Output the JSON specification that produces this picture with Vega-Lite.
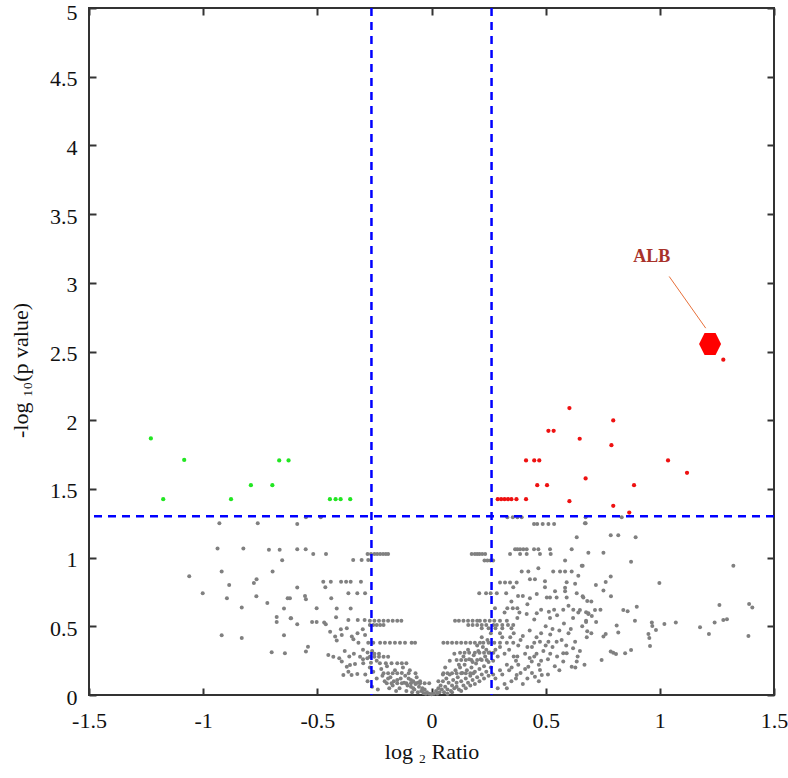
{
  "$schema": "https://vega.github.io/schema/vega-lite/v6.json",
  "width": 685,
  "height": 687,
  "autosize": {"type": "none"},
  "padding": {"left": 89, "top": 8, "right": 14, "bottom": 83},
  "background": "white",
  "config": {
    "view": {"stroke": "#333333", "strokeWidth": 2},
    "axis": {
      "domain": false, "grid": false, "tickSize": -7, "tickColor": "#333333", "tickWidth": 2,
      "labelFont": "Liberation Serif", "labelFontSize": 22, "labelColor": "#111111", "labelPadding": 19,
      "labelFlush": false, "labelOverlap": false,
      "titleFont": "Liberation Serif", "titleFontSize": 22, "titleFontWeight": "normal", "titleColor": "#111111"
    }
  },
  "datasets": {
    "ns": [
      {"x":-0.929,"y":1.25},{"x":-0.761,"y":1.25},{"x":-0.937,"y":1.066},{"x":-0.824,"y":1.066},{"x":-0.712,"y":1.058},{"x":-0.665,"y":1.058},{"x":-0.654,"y":0.981},{"x":-0.919,"y":0.898},{"x":-0.696,"y":0.898},{"x":-1.061,"y":0.864},{"x":-0.766,"y":0.843},{"x":-0.778,"y":0.816},{"x":-0.886,"y":0.801},{"x":-1.002,"y":0.741},{"x":-0.896,"y":0.704},{"x":-0.767,"y":0.719},{"x":-0.719,"y":0.67},{"x":-0.63,"y":0.704},{"x":-0.62,"y":0.704},{"x":-0.831,"y":0.636},{"x":-0.646,"y":0.629},{"x":-0.678,"y":0.568},{"x":-0.678,"y":0.532},{"x":-0.617,"y":0.559},{"x":-0.919,"y":0.435},{"x":-0.831,"y":0.415},{"x":-0.646,"y":0.435},{"x":-0.7,"y":0.311},{"x":-0.642,"y":0.304},
      {"x":-0.588,"y":1.245},{"x":-0.55,"y":1.294},{"x":-0.485,"y":1.294},{"x":-0.588,"y":1.061},{"x":-0.551,"y":1.061},{"x":-0.518,"y":1.027},{"x":-0.462,"y":1.027},{"x":-0.343,"y":0.983},{"x":-0.306,"y":0.983},{"x":-0.277,"y":0.983},
      {"x":-0.28,"y":1.027},{"x":-0.265,"y":1.027},{"x":-0.25,"y":1.027},{"x":-0.238,"y":1.027},{"x":-0.225,"y":1.027},{"x":-0.212,"y":1.027},{"x":-0.2,"y":1.027},{"x":-0.19,"y":1.027},
      {"x":-0.474,"y":0.825},{"x":-0.441,"y":0.825},{"x":-0.396,"y":0.825},{"x":-0.374,"y":0.825},{"x":-0.354,"y":0.825},{"x":-0.309,"y":0.825},{"x":-0.465,"y":0.784},{"x":-0.364,"y":0.741},{"x":-0.325,"y":0.741},{"x":-0.291,"y":0.741},{"x":-0.588,"y":0.782},{"x":-0.554,"y":0.721},{"x":-0.55,"y":0.697},{"x":-0.439,"y":0.704},{"x":-0.503,"y":0.631},{"x":-0.415,"y":0.629},{"x":-0.354,"y":0.629},{"x":-0.615,"y":0.559},{"x":-0.523,"y":0.532},{"x":-0.503,"y":0.532},{"x":-0.47,"y":0.527},{"x":-0.463,"y":0.515},{"x":-0.588,"y":0.515},{"x":-0.418,"y":0.566},{"x":-0.364,"y":0.546},{"x":-0.323,"y":0.546},{"x":-0.293,"y":0.546},
      {"x":-0.27,"y":0.541},{"x":-0.25,"y":0.541},{"x":-0.23,"y":0.541},{"x":-0.21,"y":0.541},{"x":-0.19,"y":0.541},{"x":-0.17,"y":0.541},{"x":-0.15,"y":0.541},{"x":-0.132,"y":0.541},
      {"x":-0.27,"y":0.51},{"x":-0.255,"y":0.51},{"x":-0.24,"y":0.51},{"x":-0.225,"y":0.51},{"x":-0.21,"y":0.51},
      {"x":-0.444,"y":0.461},{"x":-0.422,"y":0.425},{"x":-0.415,"y":0.396},{"x":-0.397,"y":0.478},{"x":-0.393,"y":0.437},{"x":-0.371,"y":0.486},{"x":-0.349,"y":0.425},{"x":-0.342,"y":0.406},{"x":-0.324,"y":0.449},{"x":-0.301,"y":0.478},{"x":-0.291,"y":0.437},{"x":-0.541,"y":0.352},{"x":-0.55,"y":0.316},
      {"x":-0.452,"y":0.291},{"x":-0.43,"y":0.279},{"x":-0.404,"y":0.267},{"x":-0.393,"y":0.243},{"x":-0.371,"y":0.206},{"x":-0.357,"y":0.218},{"x":-0.335,"y":0.226},{"x":-0.313,"y":0.279},{"x":-0.299,"y":0.231},{"x":-0.281,"y":0.267},{"x":-0.386,"y":0.146},{"x":-0.364,"y":0.17},{"x":-0.35,"y":0.146},{"x":-0.325,"y":0.153},
      {"x":-0.277,"y":0.381},{"x":-0.255,"y":0.381},{"x":-0.225,"y":0.381},{"x":-0.204,"y":0.381},{"x":-0.182,"y":0.381},{"x":-0.16,"y":0.381},{"x":-0.138,"y":0.381},{"x":-0.116,"y":0.381},{"x":-0.087,"y":0.381},{"x":-0.072,"y":0.381},
      {"x":-0.27,"y":0.279},{"x":-0.25,"y":0.279},{"x":-0.23,"y":0.279},{"x":-0.21,"y":0.279},{"x":-0.19,"y":0.279},
      {"x":-0.226,"y":0.231},{"x":-0.2,"y":0.231},{"x":-0.175,"y":0.231},{"x":-0.15,"y":0.231},{"x":-0.13,"y":0.231},{"x":-0.11,"y":0.231},
      {"x":-0.21,"y":0.158},{"x":-0.19,"y":0.158},{"x":-0.17,"y":0.158},{"x":-0.15,"y":0.158},{"x":-0.1,"y":0.158},{"x":-0.07,"y":0.158},
      {"x":-0.27,"y":0.2},{"x":-0.255,"y":0.17},{"x":-0.24,"y":0.12},{"x":-0.23,"y":0.3},{"x":-0.22,"y":0.19},{"x":-0.205,"y":0.1},{"x":-0.195,"y":0.21},{"x":-0.18,"y":0.13},{"x":-0.17,"y":0.07},{"x":-0.16,"y":0.18},{"x":-0.15,"y":0.11},{"x":-0.14,"y":0.05},{"x":-0.13,"y":0.16},{"x":-0.12,"y":0.09},{"x":-0.11,"y":0.03},{"x":-0.1,"y":0.12},{"x":-0.09,"y":0.06},{"x":-0.085,"y":0.02},{"x":-0.08,"y":0.1},{"x":-0.075,"y":0.04},{"x":-0.07,"y":0.08},{"x":-0.065,"y":0.13},{"x":-0.06,"y":0.02},{"x":-0.055,"y":0.06},{"x":-0.05,"y":0.1},{"x":-0.045,"y":0.03},{"x":-0.04,"y":0.05},{"x":-0.035,"y":0.015},{"x":-0.03,"y":0.04},{"x":-0.025,"y":0.01},{"x":-0.02,"y":0.02},{"x":-0.01,"y":0.01},{"x":0.0,"y":0.005},
      {"x":-0.196,"y":0.085},{"x":-0.175,"y":0.085},{"x":-0.15,"y":0.085},{"x":-0.13,"y":0.085},{"x":-0.11,"y":0.085},{"x":-0.09,"y":0.085},{"x":-0.07,"y":0.085},{"x":-0.05,"y":0.085},{"x":-0.03,"y":0.085},{"x":-0.01,"y":0.085},
      {"x":-0.3,"y":0.33},{"x":-0.28,"y":0.31},{"x":-0.26,"y":0.32},{"x":-0.24,"y":0.25},{"x":-0.265,"y":0.235},
      {"x":-0.29,"y":0.15},{"x":-0.28,"y":0.1},{"x":-0.26,"y":0.06},{"x":-0.25,"y":0.3},{"x":-0.235,"y":0.04},{"x":-0.215,"y":0.14},{"x":-0.19,"y":0.12},{"x":-0.185,"y":0.05},{"x":-0.165,"y":0.1},{"x":-0.155,"y":0.03},{"x":-0.135,"y":0.12},{"x":-0.125,"y":0.2},{"x":-0.115,"y":0.14},{"x":-0.105,"y":0.07},{"x":-0.095,"y":0.18},{"x":-0.09,"y":0.11},{"x":-0.08,"y":0.05},{"x":-0.06,"y":0.09},{"x":-0.3,"y":0.26},{"x":-0.32,"y":0.38},{"x":-0.34,"y":0.3},{"x":-0.36,"y":0.28},{"x":-0.38,"y":0.32},
      {"x":0.01,"y":0.01},{"x":0.02,"y":0.03},{"x":0.025,"y":0.01},{"x":0.03,"y":0.05},{"x":0.035,"y":0.02},{"x":0.04,"y":0.07},{"x":0.045,"y":0.04},{"x":0.05,"y":0.1},{"x":0.055,"y":0.02},{"x":0.06,"y":0.06},{"x":0.065,"y":0.12},{"x":0.07,"y":0.04},{"x":0.075,"y":0.09},{"x":0.08,"y":0.15},{"x":0.085,"y":0.03},{"x":0.09,"y":0.07},{"x":0.095,"y":0.11},{"x":0.1,"y":0.05},{"x":0.105,"y":0.18},{"x":0.11,"y":0.09},{"x":0.115,"y":0.13},{"x":0.12,"y":0.04},{"x":0.125,"y":0.2},{"x":0.13,"y":0.1},{"x":0.135,"y":0.16},{"x":0.14,"y":0.07},{"x":0.145,"y":0.22},{"x":0.15,"y":0.12},{"x":0.155,"y":0.18},{"x":0.16,"y":0.09},{"x":0.165,"y":0.26},{"x":0.17,"y":0.14},{"x":0.175,"y":0.2},{"x":0.18,"y":0.11},{"x":0.185,"y":0.29},{"x":0.19,"y":0.17},{"x":0.195,"y":0.23},{"x":0.2,"y":0.13},{"x":0.205,"y":0.32},{"x":0.21,"y":0.19},{"x":0.215,"y":0.26},{"x":0.22,"y":0.15},{"x":0.225,"y":0.35},{"x":0.23,"y":0.21},{"x":0.235,"y":0.28},{"x":0.24,"y":0.17},{"x":0.245,"y":0.4},{"x":0.25,"y":0.24},{"x":0.255,"y":0.31},{"x":0.26,"y":0.2},
      {"x":0.06,"y":0.2},{"x":0.08,"y":0.25},{"x":0.1,"y":0.3},{"x":0.12,"y":0.22},{"x":0.14,"y":0.28},{"x":0.16,"y":0.33},{"x":0.18,"y":0.24},{"x":0.2,"y":0.36},{"x":0.22,"y":0.42},{"x":0.24,"y":0.33},{"x":0.26,"y":0.45},{"x":0.27,"y":0.25},{"x":0.27,"y":0.15},{"x":0.28,"y":0.33},{"x":0.03,"y":0.1},{"x":0.05,"y":0.15},{"x":0.07,"y":0.01},{"x":0.09,"y":0.02},{"x":0.11,"y":0.06},{"x":0.13,"y":0.03},{"x":0.15,"y":0.05},{"x":0.17,"y":0.07},{"x":0.19,"y":0.08},{"x":0.21,"y":0.1},{"x":0.23,"y":0.12},{"x":0.25,"y":0.14},
      {"x":0.052,"y":0.381},{"x":0.07,"y":0.381},{"x":0.09,"y":0.381},{"x":0.11,"y":0.381},{"x":0.13,"y":0.381},{"x":0.15,"y":0.381},{"x":0.17,"y":0.381},{"x":0.19,"y":0.381},{"x":0.212,"y":0.381},{"x":0.227,"y":0.381},{"x":0.25,"y":0.381},{"x":0.275,"y":0.381},{"x":0.3,"y":0.381},{"x":0.33,"y":0.381},{"x":0.358,"y":0.381},
      {"x":0.125,"y":0.308},{"x":0.145,"y":0.308},{"x":0.165,"y":0.308},{"x":0.19,"y":0.308},{"x":0.21,"y":0.308},{"x":0.23,"y":0.308},{"x":0.25,"y":0.308},{"x":0.271,"y":0.308},
      {"x":0.11,"y":0.255},{"x":0.13,"y":0.255},{"x":0.15,"y":0.255},{"x":0.175,"y":0.255},{"x":0.2,"y":0.255},{"x":0.22,"y":0.255},{"x":0.242,"y":0.255},
      {"x":0.052,"y":0.158},{"x":0.07,"y":0.158},{"x":0.09,"y":0.158},{"x":0.11,"y":0.158},{"x":0.13,"y":0.158},{"x":0.15,"y":0.158},{"x":0.17,"y":0.158},{"x":0.183,"y":0.158},
      {"x":0.103,"y":0.541},{"x":0.12,"y":0.541},{"x":0.14,"y":0.541},{"x":0.16,"y":0.541},{"x":0.18,"y":0.541},{"x":0.2,"y":0.541},{"x":0.212,"y":0.541},{"x":0.234,"y":0.541},{"x":0.255,"y":0.541},{"x":0.275,"y":0.541},{"x":0.3,"y":0.541},{"x":0.33,"y":0.541},
      {"x":0.161,"y":0.51},{"x":0.18,"y":0.51},{"x":0.2,"y":0.51},{"x":0.22,"y":0.51},{"x":0.24,"y":0.51},{"x":0.271,"y":0.51},{"x":0.286,"y":0.51},{"x":0.31,"y":0.51},{"x":0.335,"y":0.51},{"x":0.358,"y":0.51},
      {"x":0.22,"y":0.486},{"x":0.25,"y":0.486},{"x":0.28,"y":0.486},{"x":0.31,"y":0.486},{"x":0.35,"y":0.486},
      {"x":0.176,"y":1.027},{"x":0.19,"y":1.027},{"x":0.2,"y":1.027},{"x":0.21,"y":1.027},{"x":0.222,"y":1.027},{"x":0.235,"y":1.027},
      {"x":0.232,"y":0.978},{"x":0.245,"y":0.978},{"x":0.258,"y":0.978},{"x":0.27,"y":0.978},
      {"x":0.209,"y":0.741},{"x":0.239,"y":0.741},{"x":0.259,"y":0.741},{"x":0.286,"y":0.741},{"x":0.327,"y":0.741},
      {"x":0.3,"y":0.818},{"x":0.322,"y":0.818},{"x":0.344,"y":0.818},{"x":0.373,"y":0.818},{"x":0.358,"y":0.784},
      {"x":0.332,"y":1.294},{"x":0.356,"y":1.294},{"x":0.376,"y":1.294},{"x":0.395,"y":1.294},{"x":0.449,"y":1.245},{"x":0.463,"y":1.245},{"x":0.487,"y":1.245},{"x":0.512,"y":1.245},{"x":0.537,"y":1.245},{"x":0.672,"y":1.25},{"x":0.636,"y":1.149},
      {"x":0.344,"y":1.027},{"x":0.366,"y":1.061},{"x":0.376,"y":1.061},{"x":0.388,"y":1.061},{"x":0.402,"y":1.061},{"x":0.417,"y":1.061},{"x":0.388,"y":1.027},{"x":0.417,"y":1.027},{"x":0.449,"y":1.061},{"x":0.468,"y":1.061},{"x":0.475,"y":1.027},{"x":0.519,"y":1.061},{"x":0.522,"y":1.027},{"x":0.585,"y":0.978},{"x":0.614,"y":1.061},{"x":0.662,"y":0.94},
      {"x":0.395,"y":0.898},{"x":0.424,"y":0.898},{"x":0.468,"y":0.923},{"x":0.533,"y":0.898},{"x":0.563,"y":0.898},{"x":0.585,"y":0.898},{"x":0.614,"y":0.898},{"x":0.643,"y":0.867},
      {"x":0.431,"y":0.843},{"x":0.453,"y":0.843},{"x":0.497,"y":0.828},{"x":0.497,"y":0.784},{"x":0.592,"y":0.82},{"x":0.629,"y":0.81},{"x":0.585,"y":0.78},
      {"x":0.379,"y":0.72},{"x":0.4,"y":0.72},{"x":0.431,"y":0.705},{"x":0.461,"y":0.735},{"x":0.505,"y":0.71},{"x":0.519,"y":0.71},{"x":0.541,"y":0.755},{"x":0.548,"y":0.71},{"x":0.585,"y":0.755},{"x":0.592,"y":0.71},{"x":0.636,"y":0.74},{"x":0.665,"y":0.71},
      {"x":0.278,"y":0.631},{"x":0.332,"y":0.631},{"x":0.356,"y":0.631},{"x":0.376,"y":0.631},
      {"x":0.376,"y":0.56},{"x":0.385,"y":0.6},{"x":0.417,"y":0.59},{"x":0.461,"y":0.595},{"x":0.514,"y":0.605},{"x":0.519,"y":0.56},{"x":0.537,"y":0.62},{"x":0.577,"y":0.62},{"x":0.621,"y":0.62},{"x":0.643,"y":0.6},{"x":0.677,"y":0.54},{"x":0.687,"y":0.59},
      {"x":0.475,"y":0.388},{"x":0.512,"y":0.388},{"x":0.548,"y":0.388},{"x":0.577,"y":0.304},{"x":0.592,"y":0.304},{"x":0.629,"y":0.388},{"x":0.614,"y":0.206},{"x":0.636,"y":0.243},{"x":0.577,"y":0.243},{"x":0.475,"y":0.182},{"x":0.453,"y":0.133},{"x":0.483,"y":0.146},{"x":0.424,"y":0.206},{"x":0.439,"y":0.243},{"x":0.376,"y":0.28},{"x":0.351,"y":0.2},{"x":0.373,"y":0.146},
      {"x":0.28,"y":0.12},{"x":0.29,"y":0.28},{"x":0.3,"y":0.18},{"x":0.31,"y":0.42},{"x":0.32,"y":0.08},{"x":0.33,"y":0.22},{"x":0.34,"y":0.33},{"x":0.35,"y":0.1},{"x":0.36,"y":0.45},{"x":0.37,"y":0.25},{"x":0.38,"y":0.36},{"x":0.39,"y":0.16},{"x":0.4,"y":0.43},{"x":0.41,"y":0.3},{"x":0.42,"y":0.12},{"x":0.43,"y":0.47},{"x":0.44,"y":0.35},{"x":0.45,"y":0.28},{"x":0.46,"y":0.42},{"x":0.47,"y":0.22},{"x":0.48,"y":0.45},{"x":0.49,"y":0.32},{"x":0.5,"y":0.5},{"x":0.51,"y":0.26},{"x":0.52,"y":0.44},{"x":0.53,"y":0.35},{"x":0.54,"y":0.21},{"x":0.56,"y":0.47},{"x":0.57,"y":0.4},{"x":0.6,"y":0.45},{"x":0.62,"y":0.34},{"x":0.64,"y":0.28},{"x":0.66,"y":0.5},{"x":0.68,"y":0.42},
      {"x":0.29,"y":0.05},{"x":0.3,"y":0.35},{"x":0.31,"y":0.15},{"x":0.32,"y":0.3},{"x":0.33,"y":0.05},{"x":0.34,"y":0.18},{"x":0.345,"y":0.42},{"x":0.36,"y":0.28},{"x":0.37,"y":0.12},{"x":0.38,"y":0.22},{"x":0.39,"y":0.4},{"x":0.4,"y":0.08},{"x":0.41,"y":0.19},{"x":0.42,"y":0.35},{"x":0.43,"y":0.27},{"x":0.44,"y":0.16},{"x":0.45,"y":0.38},{"x":0.46,"y":0.3},{"x":0.47,"y":0.1},{"x":0.48,"y":0.25},{"x":0.5,"y":0.36},{"x":0.51,"y":0.15},{"x":0.52,"y":0.3},{"x":0.53,"y":0.48},{"x":0.55,"y":0.28},{"x":0.56,"y":0.18},{"x":0.58,"y":0.52},{"x":0.59,"y":0.36},{"x":0.61,"y":0.48},{"x":0.63,"y":0.2},{"x":0.65,"y":0.32},{"x":0.67,"y":0.22},{"x":0.3,"y":0.45},{"x":0.32,"y":0.6},{"x":0.35,"y":0.68},{"x":0.42,"y":0.66},{"x":0.45,"y":0.55},{"x":0.48,"y":0.62},{"x":0.55,"y":0.58},{"x":0.6,"y":0.65},{"x":0.62,"y":0.56},{"x":0.7,"y":0.68},{"x":0.72,"y":0.8},{"x":0.74,"y":0.62},{"x":0.7,"y":0.45},
      {"x":0.675,"y":1.294},{"x":0.675,"y":1.25},{"x":0.833,"y":1.294},{"x":0.785,"y":1.163},{"x":0.818,"y":1.163},{"x":0.894,"y":1.149},{"x":0.687,"y":1.036},{"x":0.753,"y":1.036},{"x":0.874,"y":0.969},{"x":0.658,"y":0.94},{"x":1.322,"y":0.94},{"x":0.785,"y":0.862},{"x":0.763,"y":0.823},{"x":0.753,"y":0.76},{"x":0.786,"y":0.719},{"x":0.998,"y":0.816},{"x":0.662,"y":0.719},{"x":0.682,"y":0.685},{"x":0.65,"y":0.619},{"x":0.677,"y":0.602},{"x":0.687,"y":0.595},{"x":0.702,"y":0.575},{"x":0.716,"y":0.619},{"x":0.721,"y":0.532},{"x":0.677,"y":0.532},{"x":0.682,"y":0.464},{"x":0.84,"y":0.619},{"x":0.859,"y":0.61},{"x":0.899,"y":0.643},{"x":0.891,"y":0.541},{"x":0.811,"y":0.505},{"x":0.818,"y":0.454},{"x":0.753,"y":0.425},{"x":0.763,"y":0.444},{"x":0.965,"y":0.527},{"x":0.967,"y":0.503},{"x":0.983,"y":0.473},{"x":0.95,"y":0.444},{"x":0.954,"y":0.415},{"x":0.957,"y":0.357},{"x":1.02,"y":0.517},{"x":1.07,"y":0.527},{"x":0.785,"y":0.316},{"x":0.796,"y":0.308},{"x":0.808,"y":0.299},{"x":0.848,"y":0.304},{"x":0.874,"y":0.328},{"x":0.745,"y":0.255},{"x":1.176,"y":0.493},{"x":1.215,"y":0.444},{"x":1.24,"y":0.527},{"x":1.278,"y":0.546},{"x":1.294,"y":0.551},{"x":1.261,"y":0.655},{"x":1.391,"y":0.663},{"x":1.405,"y":0.636},{"x":1.388,"y":0.43}
    ],
    "down": [
      {"x":-1.229,"y":1.867},{"x":-1.083,"y":1.711},{"x":-1.175,"y":1.425},{"x":-0.878,"y":1.425},{"x":-0.791,"y":1.527},{"x":-0.697,"y":1.527},{"x":-0.667,"y":1.707},{"x":-0.626,"y":1.707},{"x":-0.445,"y":1.425},{"x":-0.42,"y":1.425},{"x":-0.398,"y":1.425},{"x":-0.356,"y":1.425}
    ],
    "up": [
      {"x":0.29,"y":1.425},{"x":0.305,"y":1.425},{"x":0.32,"y":1.425},{"x":0.335,"y":1.425},{"x":0.35,"y":1.425},{"x":0.372,"y":1.425},{"x":0.414,"y":1.425},{"x":0.414,"y":1.707},{"x":0.45,"y":1.707},{"x":0.472,"y":1.707},{"x":0.463,"y":1.527},{"x":0.506,"y":1.527},{"x":0.512,"y":1.923},{"x":0.535,"y":1.923},{"x":0.604,"y":2.088},{"x":0.604,"y":1.411},{"x":0.649,"y":1.865},{"x":0.675,"y":1.576},{"x":0.788,"y":1.818},{"x":0.796,"y":1.998},{"x":0.796,"y":1.377},{"x":0.866,"y":1.328},{"x":0.887,"y":1.527},{"x":1.036,"y":1.707},{"x":1.119,"y":1.617},{"x":1.278,"y":2.44}
    ],
    "alb": [{"x":1.22,"y":2.554,"lx":0.965,"ly":3.19,"x1":1.041,"y1":3.046,"x2":1.201,"y2":2.67,"label":"ALB"}],
    "vlines": [{"x":-0.263},{"x":0.263}],
    "hlines": [{"y":1.301}]
  },
  "layer": [
    {
      "data": {"name": "ns"},
      "mark": {"type": "point", "shape": "circle", "filled": true, "size": 16, "color": "#808080", "opacity": 1},
      "encoding": {
        "x": {"field": "x", "type": "quantitative", "scale": {"domain": [-1.5, 1.5], "nice": false, "zero": false},
          "axis": {"orient": "bottom", "values": [-1.5,-1,-0.5,0,0.5,1,1.5], "labelPadding": 22, "labelExpr": "datum.value < 0 ? '-' + format(-datum.value, '~g') : format(datum.value, '~g')", "title": "log ₂ Ratio", "titlePadding": 10}},
        "y": {"field": "y", "type": "quantitative", "scale": {"domain": [0, 5], "nice": false, "zero": false},
          "axis": {"orient": "left", "values": [0,0.5,1,1.5,2,2.5,3,3.5,4,4.5,5], "labelExpr": "format(datum.value, '~g')", "labelOffset": {"condition": {"test": "datum.value >= 5", "value": 4}, "value": 2}, "title": "-log ₁₀(p value)", "titlePadding": 17, "titleY": 362}}
      }
    },
    {
      "data": {"name": "vlines"},
      "mark": {"type": "rule", "color": "#0000ff", "strokeWidth": 2.5, "strokeDash": [8, 6]},
      "encoding": {"x": {"field": "x", "type": "quantitative", "scale": {"domain": [-1.5, 1.5], "nice": false, "zero": false}, "axis": null}}
    },
    {
      "data": {"name": "hlines"},
      "mark": {"type": "rule", "color": "#0000ff", "strokeWidth": 2.5, "strokeDash": [8, 6]},
      "encoding": {"y": {"field": "y", "type": "quantitative", "scale": {"domain": [0, 5], "nice": false, "zero": false}, "axis": null}}
    },
    {
      "data": {"name": "down"},
      "mark": {"type": "point", "shape": "circle", "filled": true, "size": 18, "color": "#22e622", "opacity": 1},
      "encoding": {
        "x": {"field": "x", "type": "quantitative", "scale": {"domain": [-1.5, 1.5], "nice": false, "zero": false},
          "axis": {"orient": "top", "values": [-1.5,-1,-0.5,0,0.5,1,1.5], "labels": false, "title": null}},
        "y": {"field": "y", "type": "quantitative", "scale": {"domain": [0, 5], "nice": false, "zero": false},
          "axis": {"orient": "right", "values": [0,0.5,1,1.5,2,2.5,3,3.5,4,4.5,5], "labels": false, "title": null}}
      }
    },
    {
      "data": {"name": "up"},
      "mark": {"type": "point", "shape": "circle", "filled": true, "size": 18, "color": "#ee1111", "opacity": 1},
      "encoding": {
        "x": {"field": "x", "type": "quantitative", "scale": {"domain": [-1.5, 1.5], "nice": false, "zero": false}, "axis": null},
        "y": {"field": "y", "type": "quantitative", "scale": {"domain": [0, 5], "nice": false, "zero": false}, "axis": null}
      }
    },
    {
      "data": {"name": "alb"},
      "mark": {"type": "rule", "color": "#e8703a", "strokeWidth": 1},
      "encoding": {
        "x": {"field": "x1", "type": "quantitative", "scale": {"domain": [-1.5, 1.5], "nice": false, "zero": false}, "axis": null},
        "y": {"field": "y1", "type": "quantitative", "scale": {"domain": [0, 5], "nice": false, "zero": false}, "axis": null},
        "x2": {"field": "x2"},
        "y2": {"field": "y2"}
      }
    },
    {
      "data": {"name": "alb"},
      "mark": {"type": "point", "shape": "M-1,0L-0.5,-1L0.5,-1L1,0L0.5,1L-0.5,1Z", "filled": true, "size": 484, "color": "#ff0000", "opacity": 1},
      "encoding": {
        "x": {"field": "x", "type": "quantitative", "scale": {"domain": [-1.5, 1.5], "nice": false, "zero": false}, "axis": null},
        "y": {"field": "y", "type": "quantitative", "scale": {"domain": [0, 5], "nice": false, "zero": false}, "axis": null}
      }
    },
    {
      "data": {"name": "alb"},
      "mark": {"type": "text", "font": "Liberation Serif", "fontSize": 18, "fontWeight": "bold", "color": "#a8322a", "align": "center", "baseline": "middle"},
      "encoding": {
        "x": {"field": "lx", "type": "quantitative", "scale": {"domain": [-1.5, 1.5], "nice": false, "zero": false}, "axis": null},
        "y": {"field": "ly", "type": "quantitative", "scale": {"domain": [0, 5], "nice": false, "zero": false}, "axis": null},
        "text": {"field": "label"}
      }
    }
  ],
  "resolve": {"axis": {"x": "independent", "y": "independent"}}
}
